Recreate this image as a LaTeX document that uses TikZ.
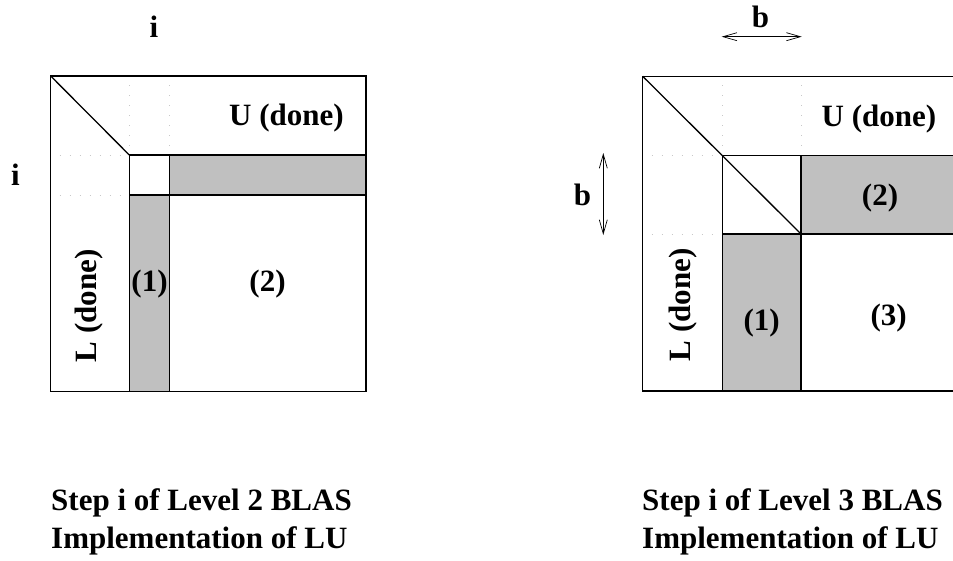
\documentclass[tikz,border=0pt]{standalone}
\usepackage{fontspec}
\setmainfont{Liberation Serif}
\usetikzlibrary{arrows.meta}
\definecolor{shadegray}{RGB}{192,192,192}
\definecolor{dotgray}{RGB}{200,200,200}
\tikzset{
  lbl/.style={font=\bfseries\fontsize{31}{38}\selectfont, inner sep=0pt},
  mline/.style={line width=1.5pt, line cap=rect},
  diagline/.style={line width=1.3pt},
  dotline/.style={draw=dotgray, line width=0.7pt, dash pattern=on 1pt off 9pt, dash phase=-9pt},
  shadebox/.style={fill=shadegray},
  dimarrow/.style={{Straight Barb[length=14pt,width=8pt]}-{Straight Barb[length=14pt,width=8pt]}, line width=0.7pt}
}
\begin{document}
\begin{tikzpicture}[x=1pt,y=-1pt]
\useasboundingbox (0,0) rectangle (953,560);
\clip (0,0) rectangle (953,560);

% ---------- left matrix (Level 2) ----------
\fill[shadebox] (169.3,155) rectangle (366,195);
\fill[shadebox] (129.3,195) rectangle (169.3,391.7);
\draw[dotline] (129.3,76) -- (129.3,155);
\draw[dotline] (169.3,76) -- (169.3,155);
\draw[dotline] (50.7,155) -- (129.3,155);
\draw[dotline] (50.7,195) -- (129.3,195);
\draw[diagline] (50.7,76) -- (129.3,155);
\draw[mline] (129.3,155) -- (366,155);
\draw[mline] (129.3,195) -- (366,195);
\draw[mline] (129.3,155) -- (129.3,391.7);
\draw[mline] (169.3,155) -- (169.3,391.7);
\draw[mline] (50.7,76) rectangle (366,391.7);

\node[lbl, anchor=base] (ltop) at (154,37) {i};
\node[lbl, anchor=base] (lleft) at (15.5,185) {i};
\node[lbl, anchor=base] (lu) at (286.5,125) {U (done)};
\node[lbl, rotate=90] (ll) at (89,306) {L (done)};
\node[lbl, anchor=base] (lone) at (149.5,291.7) {(1)};
\node[lbl, anchor=base] (ltwo) at (267.5,291.7) {(2)};
\node[lbl, anchor=base west] (lcap1) at (51,510) {Step i of Level 2 BLAS};
\node[lbl, anchor=base west] (lcap2) at (51,548) {Implementation of LU};

% ---------- right matrix (Level 3) ----------
\fill[shadebox] (801,155.5) rectangle (960,234);
\fill[shadebox] (722.3,234) rectangle (801,391);
\draw[dotline] (722.3,76.3) -- (722.3,155.5);
\draw[dotline] (801,76.3) -- (801,155.5);
\draw[dotline] (642.7,155.5) -- (722.3,155.5);
\draw[dotline] (642.7,234) -- (722.3,234);
\draw[diagline] (642.7,76.3) -- (801,234);
\draw[mline] (722.3,155.5) -- (960,155.5);
\draw[mline] (722.3,234) -- (960,234);
\draw[mline] (722.3,155.5) -- (722.3,391);
\draw[mline] (801,155.5) -- (801,391);
\draw[mline] (960,76.3) -- (642.7,76.3) -- (642.7,391) -- (960,391);

\coordinate (hb1) at (721.7,36.7);
\coordinate (hb2) at (801.7,36.7);
\coordinate (vb1) at (603.3,153);
\coordinate (vb2) at (603.3,235);
\draw[dimarrow] (hb1) -- (hb2);
\draw[dimarrow] (vb1) -- (vb2);
\node[lbl, anchor=base] (rtop) at (760.5,27) {b};
\node[lbl, anchor=base] (rleft) at (582.5,205) {b};

\node[lbl, anchor=base] (ru) at (879,126.7) {U (done)};
\node[lbl, rotate=90] (rl) at (683,305) {L (done)};
\node[lbl, anchor=base] (rtwo) at (880,205) {(2)};
\node[lbl, anchor=base] (rone) at (761.7,330) {(1)};
\node[lbl, anchor=base] (rthree) at (888.7,325) {(3)};
\node[lbl, anchor=base west] (rcap1) at (642,510) {Step i of Level 3 BLAS};
\node[lbl, anchor=base west] (rcap2) at (642,548) {Implementation of LU};
\end{tikzpicture}
\end{document}
